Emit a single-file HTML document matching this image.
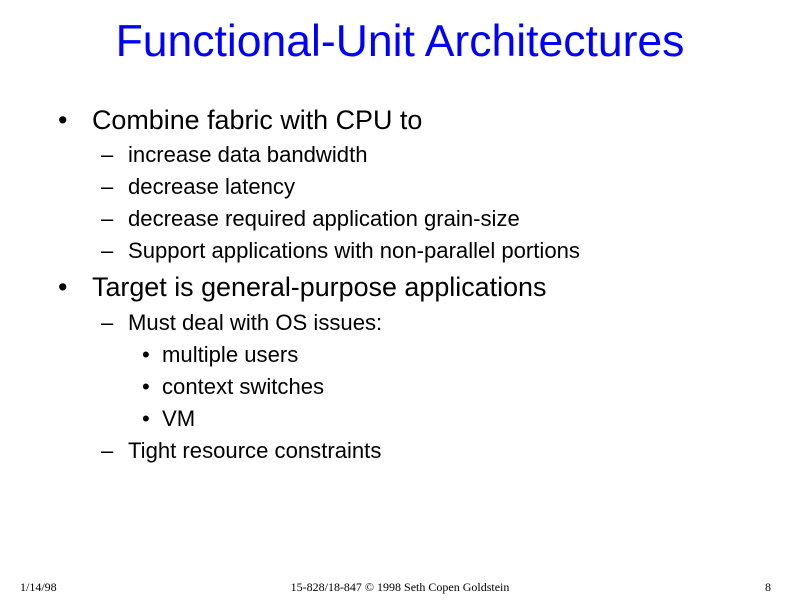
<!DOCTYPE html>
<html><head><meta charset="utf-8"><style>
body{margin:0;width:800px;height:600px;background:#fff;position:relative;overflow:hidden;font-family:"Liberation Sans",Arial,sans-serif;color:#000}
.t{position:absolute;white-space:nowrap;line-height:30px;height:30px}
.h{position:absolute;left:0;width:800px;text-align:center;top:19px;font-size:44.5px;color:#0000ff;line-height:46px}
.l1{font-size:26.9px}
.l2{font-size:22.1px}
.f{position:absolute;top:580px;font-family:"Liberation Serif",serif;font-size:12px}
</style></head><body>
<div class="h">Functional-Unit Architectures</div>
<div class="t l1" style="left:58px;top:105px">•</div><div class="t l1" style="left:92px;top:105px">Combine fabric with CPU to</div>
<div class="t l2" style="left:101px;top:140px">–</div><div class="t l2" style="left:128px;top:140px">increase data bandwidth</div>
<div class="t l2" style="left:101px;top:172px">–</div><div class="t l2" style="left:128px;top:172px">decrease latency</div>
<div class="t l2" style="left:101px;top:204px">–</div><div class="t l2" style="left:128px;top:204px">decrease required application grain-size</div>
<div class="t l2" style="left:101px;top:236px">–</div><div class="t l2" style="left:128px;top:236px">Support applications with non-parallel portions</div>
<div class="t l1" style="left:58px;top:272px">•</div><div class="t l1" style="left:92px;top:272px">Target is general-purpose applications</div>
<div class="t l2" style="left:101px;top:308px">–</div><div class="t l2" style="left:128px;top:308px">Must deal with OS issues:</div>
<div class="t l2" style="left:142px;top:340px">•</div><div class="t l2" style="left:162px;top:340px">multiple users</div>
<div class="t l2" style="left:142px;top:372px">•</div><div class="t l2" style="left:162px;top:372px">context switches</div>
<div class="t l2" style="left:142px;top:404px">•</div><div class="t l2" style="left:162px;top:404px">VM</div>
<div class="t l2" style="left:101px;top:436px">–</div><div class="t l2" style="left:128px;top:436px">Tight resource constraints</div>
<div class="f" style="left:20px">1/14/98</div>
<div class="f" style="left:0;width:800px;text-align:center">15-828/18-847 © 1998 Seth Copen Goldstein</div>
<div class="f" style="left:765px">8</div>
</body></html>
